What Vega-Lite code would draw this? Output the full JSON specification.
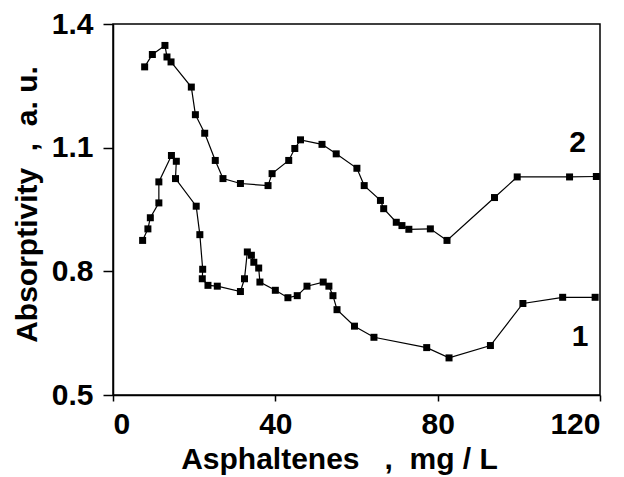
{
  "$schema": "https://vega.github.io/schema/vega-lite/v6.json",
  "autosize": "none",
  "width": 487,
  "height": 371,
  "padding": {"left": 113, "top": 24, "right": 24, "bottom": 82},
  "background": "white",
  "config": {
    "view": {"stroke": "black", "strokeWidth": 1.5},
    "axis": {
      "domainColor": "black", "domainWidth": 1.5, "tickColor": "black", "tickWidth": 1.5,
      "labelFont": "Liberation Sans", "labelFontWeight": "bold", "labelFontSize": 30, "labelColor": "black",
      "titleFont": "Liberation Sans", "titleFontWeight": "bold", "titleFontSize": 30, "titleColor": "black",
      "grid": false
    }
  },
  "datasets": {
    "curves": [
      {"s": "1", "i": 1, "x": 7.3, "y": 0.875},
      {"s": "1", "i": 2, "x": 8.6, "y": 0.903},
      {"s": "1", "i": 3, "x": 9.2, "y": 0.930},
      {"s": "1", "i": 4, "x": 11.3, "y": 0.966},
      {"s": "1", "i": 5, "x": 11.3, "y": 1.017},
      {"s": "1", "i": 6, "x": 14.4, "y": 1.081},
      {"s": "1", "i": 7, "x": 15.6, "y": 1.067},
      {"s": "1", "i": 8, "x": 15.4, "y": 1.025},
      {"s": "1", "i": 9, "x": 20.5, "y": 0.958},
      {"s": "1", "i": 10, "x": 21.4, "y": 0.889},
      {"s": "1", "i": 11, "x": 22.1, "y": 0.805},
      {"s": "1", "i": 12, "x": 22.0, "y": 0.782},
      {"s": "1", "i": 13, "x": 23.4, "y": 0.766},
      {"s": "1", "i": 14, "x": 25.7, "y": 0.764},
      {"s": "1", "i": 15, "x": 31.4, "y": 0.751},
      {"s": "1", "i": 16, "x": 32.4, "y": 0.782},
      {"s": "1", "i": 17, "x": 33.1, "y": 0.847},
      {"s": "1", "i": 18, "x": 34.1, "y": 0.839},
      {"s": "1", "i": 19, "x": 34.7, "y": 0.822},
      {"s": "1", "i": 20, "x": 35.9, "y": 0.808},
      {"s": "1", "i": 21, "x": 36.2, "y": 0.774},
      {"s": "1", "i": 22, "x": 40.0, "y": 0.754},
      {"s": "1", "i": 23, "x": 43.1, "y": 0.736},
      {"s": "1", "i": 24, "x": 45.4, "y": 0.741},
      {"s": "1", "i": 25, "x": 47.8, "y": 0.764},
      {"s": "1", "i": 26, "x": 51.8, "y": 0.774},
      {"s": "1", "i": 27, "x": 53.2, "y": 0.764},
      {"s": "1", "i": 28, "x": 54.2, "y": 0.741},
      {"s": "1", "i": 29, "x": 55.2, "y": 0.707},
      {"s": "1", "i": 30, "x": 59.5, "y": 0.667},
      {"s": "1", "i": 31, "x": 64.3, "y": 0.640},
      {"s": "1", "i": 32, "x": 77.3, "y": 0.615},
      {"s": "1", "i": 33, "x": 82.8, "y": 0.590},
      {"s": "1", "i": 34, "x": 93.0, "y": 0.620},
      {"s": "1", "i": 35, "x": 101.0, "y": 0.722},
      {"s": "1", "i": 36, "x": 110.8, "y": 0.737},
      {"s": "1", "i": 37, "x": 118.8, "y": 0.737},
      {"s": "2", "i": 1, "x": 7.8, "y": 1.296},
      {"s": "2", "i": 2, "x": 9.7, "y": 1.326},
      {"s": "2", "i": 3, "x": 12.8, "y": 1.348},
      {"s": "2", "i": 4, "x": 13.3, "y": 1.320},
      {"s": "2", "i": 5, "x": 14.3, "y": 1.308},
      {"s": "2", "i": 6, "x": 19.3, "y": 1.247},
      {"s": "2", "i": 7, "x": 20.3, "y": 1.180},
      {"s": "2", "i": 8, "x": 22.6, "y": 1.135},
      {"s": "2", "i": 9, "x": 25.2, "y": 1.069},
      {"s": "2", "i": 10, "x": 27.1, "y": 1.025},
      {"s": "2", "i": 11, "x": 31.4, "y": 1.013},
      {"s": "2", "i": 12, "x": 38.2, "y": 1.008},
      {"s": "2", "i": 13, "x": 39.2, "y": 1.037},
      {"s": "2", "i": 14, "x": 43.3, "y": 1.069},
      {"s": "2", "i": 15, "x": 44.8, "y": 1.098},
      {"s": "2", "i": 16, "x": 46.2, "y": 1.119},
      {"s": "2", "i": 17, "x": 51.5, "y": 1.108},
      {"s": "2", "i": 18, "x": 55.0, "y": 1.085},
      {"s": "2", "i": 19, "x": 60.1, "y": 1.050},
      {"s": "2", "i": 20, "x": 61.9, "y": 1.008},
      {"s": "2", "i": 21, "x": 65.9, "y": 0.972},
      {"s": "2", "i": 22, "x": 66.7, "y": 0.952},
      {"s": "2", "i": 23, "x": 69.8, "y": 0.919},
      {"s": "2", "i": 24, "x": 71.2, "y": 0.911},
      {"s": "2", "i": 25, "x": 72.9, "y": 0.902},
      {"s": "2", "i": 26, "x": 78.2, "y": 0.903},
      {"s": "2", "i": 27, "x": 82.3, "y": 0.875},
      {"s": "2", "i": 28, "x": 94.0, "y": 0.979},
      {"s": "2", "i": 29, "x": 99.6, "y": 1.029},
      {"s": "2", "i": 30, "x": 112.5, "y": 1.029},
      {"s": "2", "i": 31, "x": 119.1, "y": 1.030}
    ],
    "labels": [
      {"t": "2", "x": 114.5, "y": 1.089},
      {"t": "1", "x": 115.1, "y": 0.620}
    ]
  },
  "layer": [
    {
      "data": {"name": "curves"},
      "mark": {"type": "line", "color": "black", "strokeWidth": 1.2},
      "encoding": {
        "x": {"field": "x", "type": "quantitative", "scale": {"domain": [0, 120], "nice": false},
              "axis": {"values": [0, 40, 80, 120], "tickSize": 6, "labelPadding": 32, "labelBaseline": "alphabetic",
                       "title": "Asphaltenes\u00a0\u00a0\u00a0,\u00a0\u00a0mg / L", "titleX": 226, "titleAlign": "center", "titleY": 73, "titleBaseline": "alphabetic"}},
        "y": {"field": "y", "type": "quantitative", "scale": {"domain": [0.5, 1.4], "nice": false, "zero": false},
              "axis": {"values": [0.5, 0.8, 1.1, 1.4], "format": ".1f", "tickSize": 10, "labelPadding": 10,
                       "title": "Absorptivity\u00a0\u00a0,\u00a0\u00a0a. u.", "titleX": -86, "titleY": 180, "titleAlign": "center", "titleBaseline": "middle", "titleAngle": -90}},
        "detail": {"field": "s"},
        "order": {"field": "i", "type": "quantitative"}
      }
    },
    {
      "data": {"name": "curves"},
      "mark": {"type": "square", "color": "black", "opacity": 1, "size": 49, "filled": true},
      "encoding": {
        "x": {"field": "x", "type": "quantitative"},
        "y": {"field": "y", "type": "quantitative"}
      }
    },
    {
      "data": {"name": "labels"},
      "mark": {"type": "text", "font": "Liberation Sans", "fontWeight": "bold", "fontSize": 30, "color": "black", "baseline": "alphabetic", "align": "center"},
      "encoding": {
        "x": {"field": "x", "type": "quantitative"},
        "y": {"field": "y", "type": "quantitative"},
        "text": {"field": "t"}
      }
    }
  ]
}
